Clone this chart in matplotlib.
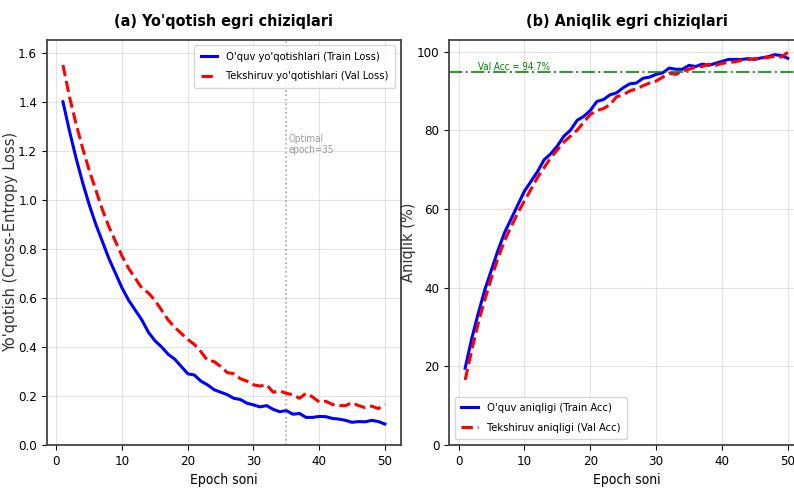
import numpy as np
import matplotlib
matplotlib.use("Agg")
import matplotlib.pyplot as plt
from matplotlib import font_manager

# data
epochs = list(range(1, 51))

train_loss = [1.40, 1.28, 1.17, 1.07, 0.98, 0.90, 0.83, 0.76, 0.70, 0.64,
              0.59, 0.55, 0.51, 0.46, 0.425, 0.40, 0.37, 0.35, 0.32, 0.29,
              0.285, 0.26, 0.245, 0.225, 0.215, 0.205, 0.19, 0.185, 0.17, 0.163,
              0.155, 0.16, 0.145, 0.135, 0.14, 0.125, 0.128, 0.112, 0.112, 0.116,
              0.115, 0.108, 0.105, 0.10, 0.092, 0.095, 0.094, 0.10, 0.095, 0.085]
val_loss = [1.55, 1.42, 1.31, 1.21, 1.12, 1.04, 0.96, 0.89, 0.83, 0.77,
            0.72, 0.68, 0.64, 0.62, 0.59, 0.55, 0.51, 0.48, 0.455, 0.43,
            0.41, 0.38, 0.345, 0.34, 0.32, 0.295, 0.29, 0.27, 0.26, 0.245,
            0.24, 0.245, 0.215, 0.22, 0.21, 0.205, 0.19, 0.21, 0.195, 0.175,
            0.178, 0.165, 0.16, 0.16, 0.172, 0.16, 0.152, 0.158, 0.148, 0.165]

train_acc = [19.5, 27, 33.5, 39.5, 44.5, 49.5, 54, 57.5, 61, 64.5,
             67, 69.5, 72.5, 74, 76, 78.5, 80, 82.5, 83.5, 85,
             87.3, 87.8, 89, 89.5, 90.8, 91.8, 92, 93.2, 93.5, 94.2,
             94.6, 95.8, 95.5, 95.5, 96.5, 96.2, 96.8, 96.5, 97, 97.5,
             98, 98, 98, 98.2, 98, 98.4, 98.7, 99.2, 99, 98.3]
val_acc = [16.5, 24, 31, 37, 42.5, 47.5, 52, 55.5, 59, 62,
           65, 68, 70.5, 73, 75, 77, 78.5, 80, 82, 84,
           85, 85.5, 86.5, 88.5, 89, 90, 90.5, 91.3, 92, 92.5,
           93.5, 94.5, 94.2, 95, 95.5, 96, 96.2, 96.8, 96.5, 97,
           97.2, 97.4, 97.8, 98, 98.2, 98.3, 98.5, 98.8, 98.6, 99.8]

best_epoch = 35
best_val_acc = 94.7

# the reference text looks squeezed sideways -> use a condensed face if there is one
fonts = font_manager.fontManager.ttflist
dv_cond = [f for f in fonts if f.name == 'DejaVu Sans' and 'Condensed' in f.fname]
plt.rcParams['font.family'] = ['DejaVu Sans']
if dv_cond:
    plt.rcParams['font.stretch'] = 'condensed'
plt.rcParams['axes.edgecolor'] = '#444444'
plt.rcParams['axes.linewidth'] = 1.3

fig = plt.figure(figsize=(7.94, 4.91), dpi=100)
ax1 = fig.add_axes([0.059, 0.094, 0.446, 0.825])
ax2 = fig.add_axes([0.5655, 0.094, 0.447, 0.825])

leg_kw = dict(fontsize=8, handlelength=1.5, labelspacing=0.85, borderpad=0.6)

# loss curves
ax1.plot(epochs, train_loss, color='blue', lw=2.2, label="O'quv yo'qotishlari (Train Loss)")
ax1.plot(epochs, val_loss, color='red', lw=2.2, ls='--', label="Tekshiruv yo'qotishlari (Val Loss)")
ax1.axvline(best_epoch, color='gray', ls=':', lw=1.2, alpha=0.7)
ax1.text(best_epoch + 0.3, 1.19, f"Optimal\nepoch={best_epoch}", color='gray', alpha=0.8,
         fontsize=7)
ax1.set_ylim(0, 1.653)
ax1.set_title("(a) Yo'qotish egri chiziqlari", fontsize=11.5, fontweight='bold', pad=10)
ax1.set_xlabel("Epoch soni", fontsize=10)
ax1.set_ylabel("Yo'qotish (Cross-Entropy Loss)", fontsize=10.5, stretch='normal', color='#333333')
ax1.yaxis.set_label_coords(-0.082, 0.5)
ax1.legend(loc='upper right', **leg_kw)
ax1.grid(True, alpha=0.35)

# accuracy curves
ax2.plot(epochs, train_acc, color='blue', lw=2.2, label="O'quv aniqligi (Train Acc)")
ax2.plot(epochs, val_acc, color='red', lw=2.2, ls='--', label="Tekshiruv aniqligi (Val Acc)")
ax2.axhline(best_val_acc, color='green', ls='-.', lw=1.5, alpha=0.8)
ax2.text(3, best_val_acc + 0.7, f"Val Acc = {best_val_acc}%", color='green', fontsize=7)
ax2.set_ylim(0, 103)
ax2.set_title("(b) Aniqlik egri chiziqlari", fontsize=11.5, fontweight='bold', pad=10)
ax2.set_xlabel("Epoch soni", fontsize=10)
ax2.set_ylabel("Aniqlik (%)", fontsize=10.5, stretch='normal', color='#333333')
ax2.yaxis.set_label_coords(-0.092, 0.5)
ax2.legend(loc='lower left', **leg_kw)
ax2.grid(True, alpha=0.35)

for ax in (ax1, ax2):
    ax.tick_params(labelsize=9.5)

fig.savefig("out.png", dpi=100)
